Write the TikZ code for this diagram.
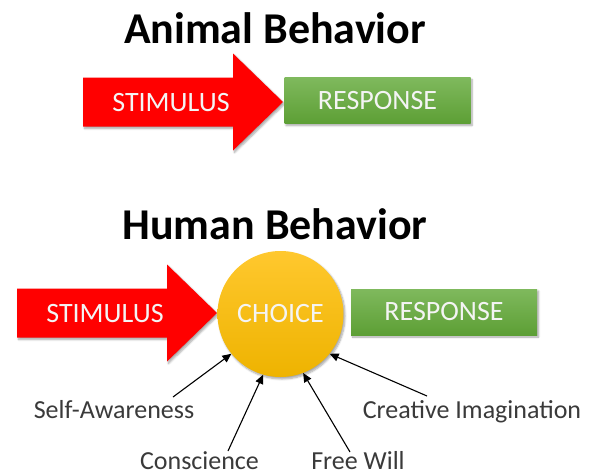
\documentclass[tikz,border=0pt]{standalone}
\usepackage{fontspec}
\setmainfont{Carlito}
\usetikzlibrary{arrows.meta,positioning,calc,shadows.blur}
\definecolor{cRed}{HTML}{FF0000}
\definecolor{cGreenT}{HTML}{7FB95D}
\definecolor{cGreenB}{HTML}{5D9F35}
\definecolor{cGoldT}{HTML}{FFC82E}
\definecolor{cGoldB}{HTML}{EEB300}
\definecolor{cInk}{HTML}{3A3A3A}
\definecolor{cPale}{HTML}{F4F4F4}
\tikzset{
  >=Stealth,
  title/.style ={font=\fontsize{44}{48}\selectfont\bfseries,anchor=base,inner sep=0pt},
  drop/.style  ={blur shadow={shadow xshift=1.5pt,shadow yshift=-2pt,
                 shadow blur steps=6,shadow opacity=35}},
  intext/.style={font=\fontsize{28}{32}\selectfont,text=cPale,inner sep=0pt},
  rbox/.style  ={rectangle,minimum width=186pt,minimum height=46pt,
                 top color=cGreenT,bottom color=cGreenB,intext,drop},
  cbox/.style  ={circle,minimum size=126pt,top color=cGoldT,
                 bottom color=cGoldB,intext,drop},
  word/.style  ={font=\fontsize{26}{30}\selectfont,text=cInk,anchor=base,inner sep=0pt},
  ar/.style    ={-{Triangle[length=9pt,width=8pt]},line width=1.1pt,black},
}
% red stimulus arrow, #1,#2 = left end of the shaft (centre line)
\newcommand\stimarrow[3]{%
  \fill[cRed,drop] (#1,#2-24.5) -- ++(150,0) -- ++(0,-24) -- ++(50,48.5)
     -- ++(-50,48.5) -- ++(0,-24) -- ++(-150,0) -- cycle;
  \node[intext] (#3) at (#1+88,#2+1) {STIMULUS};}

\begin{document}
\begin{tikzpicture}[x=1pt,y=-1pt]
\useasboundingbox (0,0) rectangle (591,474);
% animal
\node[title] (ttlA) at (275,43) {Animal Behavior};
\stimarrow{83}{102}{stimA}
\node[rbox] (respA) at (377.5,100.5) {RESPONSE};
% human
\node[title] (ttlH) at (275,239) {Human Behavior};
\stimarrow{17}{313}{stimH}
\node[cbox] (choice) at (280.5,314) {CHOICE};
\node[rbox] (respH) at (444,312) {RESPONSE};
% what feeds the choice
\node[word] (self) at (114,418) {Self-Awareness};
\node[word] (imag) at (472,418) {Creative Imagination};
\node[word] (consc) at (199.5,469) {Conscience};
\node[word] (will) at (358,469) {Free Will};
\coordinate (selfE)  at (173,397);
\coordinate (imagE)  at (427,396);
\coordinate (conscE) at (228,451);
\coordinate (willE)  at (350,452);
\draw[ar] (selfE)  -- (choice.219);
\draw[ar] (conscE) -- (choice.254);
\draw[ar] (willE)  -- (choice.291);
\draw[ar] (imagE)  -- (choice.321);
\end{tikzpicture}
\end{document}
